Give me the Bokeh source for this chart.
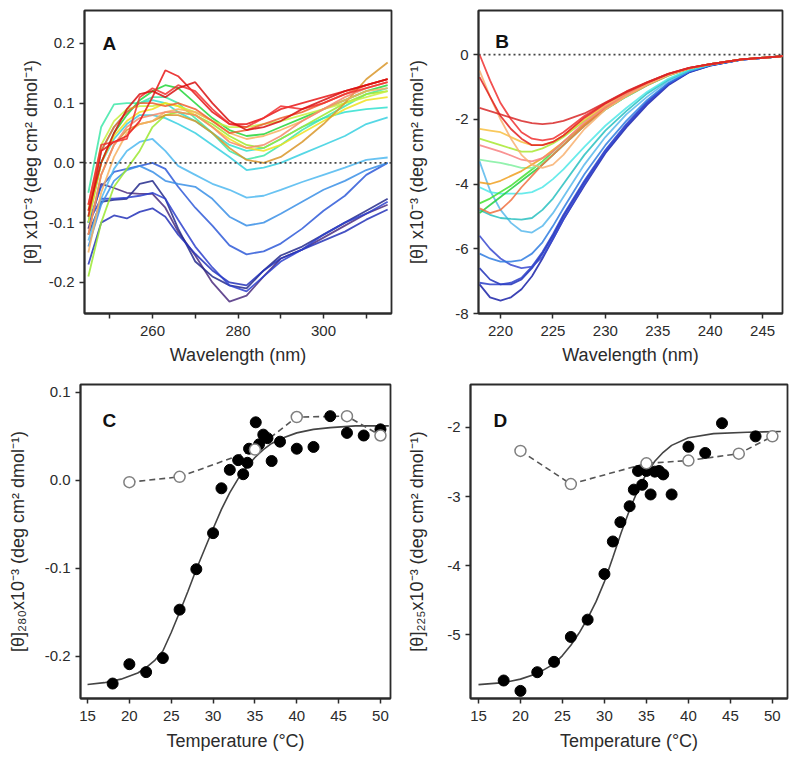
from bokeh.plotting import figure
from bokeh.layouts import column, row
from bokeh.models import FixedTicker, PrintfTickFormatter, Span, Label
from bokeh.embed import file_html
from bokeh.resources import INLINE

FONT = "Liberation Sans"
INK = "#2b2b2b"

# ---------------- Panel A: near-UV CD spectra ----------------
WL_A = [245, 248, 251, 254, 257, 260, 263, 266, 270, 274, 278, 282, 286, 290, 295, 300, 305, 310, 315]
A01 = [-0.11, -0.035, -0.042, -0.05, -0.052, -0.052, -0.075, -0.115, -0.155, -0.20, -0.232, -0.222, -0.19, -0.16, -0.145, -0.125, -0.105, -0.085, -0.07]
A02 = [-0.12, -0.065, -0.062, -0.06, -0.035, -0.03, -0.06, -0.11, -0.165, -0.19, -0.205, -0.21, -0.18, -0.155, -0.14, -0.12, -0.10, -0.08, -0.06]
A03 = [-0.17, -0.10, -0.088, -0.093, -0.082, -0.076, -0.09, -0.12, -0.152, -0.18, -0.20, -0.205, -0.18, -0.16, -0.145, -0.13, -0.115, -0.095, -0.078]
A04 = [-0.10, -0.06, -0.06, -0.058, -0.055, -0.05, -0.06, -0.095, -0.14, -0.175, -0.205, -0.215, -0.19, -0.165, -0.145, -0.12, -0.10, -0.085, -0.065]
A05 = [-0.10, -0.04, -0.015, -0.01, -0.005, 0.0, -0.01, -0.04, -0.075, -0.105, -0.138, -0.153, -0.148, -0.135, -0.11, -0.08, -0.055, -0.02, 0.0]
A06 = [-0.14, -0.07, -0.03, -0.012, -0.005, -0.015, -0.03, -0.035, -0.04, -0.06, -0.09, -0.105, -0.10, -0.085, -0.065, -0.045, -0.03, -0.012, 0.0]
A07 = [-0.13, -0.06, -0.01, 0.02, 0.035, 0.04, 0.02, -0.005, -0.02, -0.035, -0.045, -0.058, -0.055, -0.045, -0.032, -0.02, -0.008, 0.005, 0.009]
A08 = [-0.10, 0.0, 0.04, 0.065, 0.08, 0.08, 0.075, 0.065, 0.05, 0.03, 0.01, -0.012, -0.008, 0.0, 0.015, 0.03, 0.045, 0.065, 0.076]
A09 = [-0.10, 0.02, 0.06, 0.085, 0.10, 0.105, 0.10, 0.085, 0.07, 0.05, 0.03, 0.02, 0.025, 0.04, 0.06, 0.075, 0.085, 0.09, 0.093]
A10 = [-0.05, 0.06, 0.098, 0.10, 0.10, 0.11, 0.11, 0.10, 0.075, 0.05, 0.02, 0.006, 0.012, 0.03, 0.055, 0.075, 0.095, 0.115, 0.125]
A11 = [-0.09, 0.0, 0.05, 0.08, 0.105, 0.12, 0.13, 0.125, 0.10, 0.075, 0.055, 0.045, 0.048, 0.06, 0.075, 0.09, 0.105, 0.12, 0.13]
A12 = [-0.19, -0.10, -0.04, -0.01, 0.02, 0.06, 0.08, 0.085, 0.08, 0.065, 0.045, 0.03, 0.025, 0.04, 0.06, 0.08, 0.10, 0.115, 0.12]
A13 = [-0.08, 0.03, 0.07, 0.09, 0.095, 0.095, 0.10, 0.095, 0.085, 0.07, 0.06, 0.06, 0.065, 0.07, 0.08, 0.09, 0.10, 0.11, 0.12]
A14 = [-0.10, 0.0, 0.045, 0.07, 0.085, 0.09, 0.10, 0.095, 0.08, 0.06, 0.04, 0.025, 0.02, 0.03, 0.05, 0.07, 0.09, 0.105, 0.11]
A15 = [-0.12, -0.02, 0.03, 0.055, 0.065, 0.07, 0.08, 0.08, 0.07, 0.05, 0.025, 0.005, 0.0, 0.01, 0.035, 0.065, 0.10, 0.14, 0.168]
A16 = [-0.15, -0.05, 0.01, 0.05, 0.065, 0.07, 0.085, 0.09, 0.085, 0.07, 0.05, 0.04, 0.045, 0.055, 0.07, 0.09, 0.105, 0.12, 0.125]
A17 = [-0.12, -0.02, 0.03, 0.06, 0.075, 0.08, 0.085, 0.085, 0.08, 0.06, 0.035, 0.025, 0.03, 0.045, 0.07, 0.09, 0.11, 0.125, 0.135]
A18 = [-0.07, 0.02, 0.06, 0.085, 0.10, 0.10, 0.095, 0.10, 0.09, 0.07, 0.05, 0.055, 0.065, 0.075, 0.085, 0.10, 0.115, 0.13, 0.14]
A19 = [-0.09, 0.02, 0.035, 0.045, 0.07, 0.11, 0.155, 0.145, 0.115, 0.085, 0.065, 0.065, 0.075, 0.09, 0.10, 0.11, 0.12, 0.13, 0.14]
A20 = [-0.07, 0.03, 0.035, 0.04, 0.11, 0.125, 0.115, 0.13, 0.12, 0.09, 0.065, 0.06, 0.075, 0.095, 0.09, 0.10, 0.115, 0.125, 0.135]
A21 = [-0.08, 0.0, 0.05, 0.09, 0.115, 0.12, 0.11, 0.125, 0.135, 0.10, 0.07, 0.055, 0.06, 0.07, 0.09, 0.105, 0.12, 0.13, 0.14]
A_SERIES = [A01, A02, A03, A04, A05, A06, A07, A08, A09, A10, A11,
            A12, A13, A14, A15, A16, A17, A18, A19, A20, A21]
A_COLORS = ["#4b2d7f", "#252a8c", "#2433b8", "#2d3fcc", "#2f5ad8", "#3a8fe6", "#4fb8f0",
            "#38d0e0", "#30e0d0", "#3ee8a8", "#22d63a", "#9be830", "#c8f040", "#f0e020",
            "#d9962a", "#f7b060", "#f48a6a", "#f06030", "#e81818", "#f03030", "#d81010"]

# ---------------- Panel B: far-UV CD spectra ----------------
WL_B = [218, 219, 220, 221, 222, 223, 224, 225, 226, 228, 230, 232, 234, 236, 238, 240, 243, 247]
B01 = [-7.1, -7.5, -7.6, -7.5, -7.25, -6.85, -6.3, -5.7, -5.1, -4.05, -3.05, -2.25, -1.55, -0.95, -0.55, -0.34, -0.16, -0.05]
B02 = [-6.6, -6.95, -7.1, -7.1, -6.95, -6.6, -6.15, -5.6, -5.0, -3.95, -3.0, -2.2, -1.5, -0.92, -0.54, -0.34, -0.16, -0.05]
B03 = [-7.05, -7.1, -7.1, -7.05, -6.9, -6.55, -6.1, -5.55, -4.95, -3.9, -2.95, -2.15, -1.45, -0.9, -0.53, -0.33, -0.16, -0.05]
B04 = [-5.6, -6.0, -6.3, -6.5, -6.6, -6.55, -6.25, -5.7, -5.1, -4.0, -3.0, -2.2, -1.5, -0.92, -0.53, -0.33, -0.16, -0.05]
B05 = [-6.15, -6.3, -6.4, -6.4, -6.35, -6.15, -5.8, -5.3, -4.75, -3.7, -2.8, -2.05, -1.4, -0.88, -0.52, -0.33, -0.16, -0.05]
B06 = [-3.3, -4.2, -4.8, -5.2, -5.45, -5.5, -5.3, -4.9, -4.4, -3.4, -2.55, -1.85, -1.3, -0.82, -0.5, -0.32, -0.15, -0.05]
B07 = [-4.8, -4.95, -5.05, -5.08, -5.1, -5.05, -4.8, -4.45, -4.0, -3.1, -2.35, -1.75, -1.2, -0.78, -0.48, -0.31, -0.15, -0.05]
B08 = [-4.1, -4.25, -4.3, -4.3, -4.3, -4.25, -4.1, -3.85, -3.55, -2.85, -2.2, -1.65, -1.15, -0.75, -0.47, -0.31, -0.15, -0.05]
B09 = [-4.9, -4.65, -4.4, -4.15, -3.9, -3.65, -3.4, -3.1, -2.8, -2.2, -1.7, -1.3, -0.95, -0.65, -0.43, -0.3, -0.15, -0.05]
B10 = [-4.6, -4.45, -4.25, -4.05, -3.8, -3.55, -3.3, -3.0, -2.7, -2.15, -1.68, -1.28, -0.93, -0.64, -0.43, -0.3, -0.15, -0.05]
B11 = [-3.25, -3.3, -3.35, -3.42, -3.5, -3.5, -3.35, -3.1, -2.8, -2.2, -1.7, -1.3, -0.95, -0.65, -0.43, -0.3, -0.15, -0.05]
B12 = [-2.6, -2.7, -2.8, -2.9, -3.0, -3.0, -2.9, -2.75, -2.55, -2.05, -1.62, -1.25, -0.92, -0.63, -0.42, -0.3, -0.15, -0.05]
B13 = [-2.3, -2.35, -2.4, -2.55, -2.7, -2.8, -2.8, -2.7, -2.5, -2.0, -1.58, -1.22, -0.9, -0.62, -0.42, -0.3, -0.15, -0.05]
B14 = [-3.95, -4.0, -3.9, -3.75, -3.6, -3.4, -3.2, -2.95, -2.7, -2.15, -1.65, -1.27, -0.93, -0.64, -0.43, -0.3, -0.15, -0.05]
B15 = [-4.75, -4.9, -4.8, -4.5, -4.1, -3.75, -3.4, -3.1, -2.8, -2.2, -1.68, -1.28, -0.94, -0.64, -0.43, -0.3, -0.15, -0.05]
B16 = [-2.8, -2.9, -3.0, -3.12, -3.25, -3.3, -3.2, -3.0, -2.7, -2.1, -1.62, -1.24, -0.91, -0.63, -0.42, -0.3, -0.15, -0.05]
B17 = [-0.5, -1.3, -2.0, -2.6, -3.1, -3.4, -3.5, -3.4, -3.1, -2.3, -1.7, -1.28, -0.93, -0.64, -0.43, -0.3, -0.15, -0.05]
B18 = [0.0, -0.8, -1.5, -2.0, -2.4, -2.6, -2.65, -2.6, -2.4, -1.9, -1.5, -1.15, -0.86, -0.6, -0.41, -0.3, -0.15, -0.05]
B19 = [-0.7, -1.3, -1.9, -2.3, -2.6, -2.8, -2.8, -2.7, -2.5, -1.95, -1.52, -1.17, -0.87, -0.6, -0.41, -0.3, -0.15, -0.05]
B20 = [-1.65, -1.75, -1.85, -1.95, -2.05, -2.12, -2.15, -2.12, -2.05, -1.82, -1.48, -1.14, -0.85, -0.6, -0.41, -0.3, -0.15, -0.05]
B_SERIES = [B01, B02, B03, B04, B05, B06, B07, B08, B09, B10,
            B11, B12, B13, B14, B15, B16, B17, B18, B19, B20]
B_COLORS = ["#1a22a8", "#2030b8", "#2a3ec8", "#3a4ad0", "#2f7de0", "#58b8ec", "#28c0c0",
            "#50e8e8", "#22d040", "#44e030", "#80f0a0", "#a8e830", "#f8c040", "#f0a020",
            "#f07040", "#f88080", "#f8b070", "#f03030", "#e02020", "#d82828"]

# ---------------- Panel C: [theta]280 vs temperature ----------------
C_T_HEAT = [18, 20, 22, 24, 26, 28, 30, 31, 32, 33, 33.6, 34.1, 34.3, 35.1, 35.5, 36, 36.5, 37, 38, 40, 42, 44, 46, 48, 50]
C_V_HEAT = [-0.231, -0.209, -0.218, -0.202, -0.147, -0.101, -0.060, -0.009, 0.012, 0.023, 0.007, 0.020, 0.036, 0.066,
            0.041, 0.052, 0.048, 0.022, 0.044, 0.036, 0.038, 0.073, 0.054, 0.051, 0.058]
C_T_COOL = [20, 26, 35, 40, 46, 50]
C_V_COOL = [-0.002, 0.004, 0.035, 0.072, 0.073, 0.051]
C_T_FIT = [15, 17, 19, 21, 22, 23, 24, 25, 26, 27, 28, 29, 30, 31, 32, 33, 34, 35, 36, 37, 38, 40, 42, 44, 47, 51]
C_V_FIT = [-0.232, -0.230, -0.226, -0.219, -0.213, -0.205, -0.194, -0.173, -0.150, -0.126, -0.101, -0.078, -0.055,
           -0.033, -0.014, 0.002, 0.015, 0.026, 0.035, 0.042, 0.047, 0.054, 0.058, 0.060, 0.062, 0.062]

# ---------------- Panel D: [theta]225 vs temperature ----------------
D_T_HEAT = [18, 20, 22, 24, 26, 28, 30, 31, 31.9, 33, 33.5, 34, 34.5, 35, 35.5, 36, 36.5, 37, 38, 40, 42, 44, 48]
D_V_HEAT = [-5.66, -5.81, -5.54, -5.39, -5.03, -4.78, -4.12, -3.65, -3.37, -3.14, -2.90, -2.63, -2.83, -2.63,
            -2.97, -2.64, -2.63, -2.68, -2.97, -2.28, -2.37, -1.94, -2.13]
D_T_COOL = [20, 26, 35, 40, 46, 50]
D_V_COOL = [-2.34, -2.82, -2.52, -2.48, -2.38, -2.13]
D_T_FIT = [15, 18, 20, 22, 24, 25, 26, 27, 28, 29, 30, 31, 32, 33, 34, 35, 36, 37, 38, 40, 43, 47, 51]
D_V_FIT = [-5.72, -5.69, -5.64, -5.56, -5.42, -5.30, -5.15, -4.97, -4.76, -4.52, -4.23, -3.88, -3.52, -3.19, -2.90,
           -2.67, -2.49, -2.36, -2.26, -2.15, -2.09, -2.07, -2.06]

Y_LABEL_AB = "[\u03b8] x10\u207b\u00b3 (deg cm\u00b2 dmol\u207b\u00b9)"
Y_LABEL_C = "[\u03b8]\u2082\u2088\u2080x10\u207b\u00b3 (deg cm\u00b2 dmol\u207b\u00b9)"
Y_LABEL_D = "[\u03b8]\u2082\u2082\u2085x10\u207b\u00b3 (deg cm\u00b2 dmol\u207b\u00b9)"
X_LABEL_WL = "Wavelength (nm)"
X_LABEL_T = "Temperature (\u00b0C)"


def make_fig(width, height, xr, yr, bl, br, bt, bb, xlabel, ylabel, xstand, ystand):
    p = figure(width=width, height=height, x_range=xr, y_range=yr,
               output_backend="svg", toolbar_location=None,
               min_border_left=bl, min_border_right=br,
               min_border_top=bt, min_border_bottom=bb)
    p.xgrid.visible = False
    p.ygrid.visible = False
    p.outline_line_color = INK
    p.outline_line_width = 1.8
    p.outline_line_alpha = 1.0
    p.background_fill_color = "white"
    p.border_fill_color = "white"
    for ax in (p.xaxis[0], p.yaxis[0]):
        ax.axis_line_color = INK
        ax.axis_line_width = 1.8
        ax.major_tick_line_color = INK
        ax.major_tick_line_width = 1.5
        ax.major_tick_out = 5
        ax.major_tick_in = 0
        ax.minor_tick_line_color = None
        ax.major_label_text_font = FONT
        ax.major_label_text_font_size = "15px"
        ax.major_label_text_color = INK
        ax.axis_label_text_font = FONT
        ax.axis_label_text_font_size = "18px"
        ax.axis_label_text_font_style = "normal"
        ax.axis_label_text_color = INK
    p.xaxis[0].major_label_standoff = 7
    p.yaxis[0].major_label_standoff = 5
    p.xaxis[0].axis_label = xlabel
    p.yaxis[0].axis_label = ylabel
    p.xaxis[0].axis_label_standoff = xstand
    p.yaxis[0].axis_label_standoff = ystand
    return p


def add_letter(p, x, y, text):
    p.add_layout(Label(x=x, y=y, text=text, text_font=FONT, text_font_size="19px",
                       text_color="#111111", text_font_style="bold",
                       text_align="left", text_baseline="middle"))


# ---- A ----
pA = make_fig(400, 374, (244.1, 315.9), (-0.252, 0.255), 84, 9, 10, 61,
              X_LABEL_WL, Y_LABEL_AB, 6, 5)
pA.xaxis[0].ticker = FixedTicker(ticks=[260, 280, 300], minor_ticks=[250, 270, 290, 310])
pA.xaxis[0].minor_tick_line_color = INK
pA.xaxis[0].minor_tick_line_width = 1.5
pA.xaxis[0].minor_tick_out = 5
pA.xaxis[0].minor_tick_in = 0
pA.yaxis[0].ticker = FixedTicker(ticks=[-0.2, -0.1, 0.0, 0.1, 0.2])
pA.yaxis[0].formatter = PrintfTickFormatter(format="%.1f")
for ys, c in zip(A_SERIES, A_COLORS):
    pA.line(WL_A, ys, line_color=c, line_width=1.8, line_alpha=0.85)
pA.add_layout(Span(location=0, dimension="width", line_color="#444444",
                   line_width=1.8, line_dash="2 3"))
add_letter(pA, 248.3, 0.2, "A")

# ---- B ----
pB = make_fig(392, 374, (217.9, 246.9), (-8.0, 1.36), 78, 10, 10, 61,
              X_LABEL_WL, Y_LABEL_AB, 6, 25)
pB.xaxis[0].ticker = FixedTicker(ticks=[220, 225, 230, 235, 240, 245])
pB.yaxis[0].ticker = FixedTicker(ticks=[-8, -6, -4, -2, 0])
pB.yaxis[0].formatter = PrintfTickFormatter(format="%d")
for ys, c in zip(B_SERIES, B_COLORS):
    pB.line(WL_B, ys, line_color=c, line_width=1.8, line_alpha=0.85)
pB.add_layout(Span(location=0, dimension="width", line_color="#444444",
                   line_width=1.8, line_dash="2 3"))
add_letter(pB, 219.5, 0.4, "B")

# ---- C ----
pC = make_fig(400, 387, (14.16, 51.2), (-0.248, 0.109), 80, 10, 10, 63,
              X_LABEL_T, Y_LABEL_C, 7, 14)
pC.xaxis[0].ticker = FixedTicker(ticks=[15, 20, 25, 30, 35, 40, 45, 50])
pC.yaxis[0].ticker = FixedTicker(ticks=[-0.2, -0.1, 0.0, 0.1])
pC.yaxis[0].formatter = PrintfTickFormatter(format="%.1f")
pC.line(C_T_FIT, C_V_FIT, line_color="#444444", line_width=1.6)
pC.line(C_T_COOL, C_V_COOL, line_color="#555555", line_width=1.6, line_dash="6 4")
pC.scatter(C_T_HEAT, C_V_HEAT, size=11, fill_color="black", line_color="black")
pC.scatter(C_T_COOL, C_V_COOL, size=11, fill_color="white", line_color="#808080", line_width=1.5)
add_letter(pC, 16.8, 0.068, "C")

# ---- D ----
pD = make_fig(392, 387, (14.05, 51.8), (-5.92, -1.38), 70, 5, 9, 63,
              X_LABEL_T, Y_LABEL_D, 7, 17)
pD.xaxis[0].ticker = FixedTicker(ticks=[15, 20, 25, 30, 35, 40, 45, 50])
pD.yaxis[0].ticker = FixedTicker(ticks=[-5, -4, -3, -2])
pD.yaxis[0].formatter = PrintfTickFormatter(format="%d")
pD.line(D_T_FIT, D_V_FIT, line_color="#444444", line_width=1.6)
pD.line(D_T_COOL, D_V_COOL, line_color="#555555", line_width=1.6, line_dash="6 4")
pD.scatter(D_T_HEAT, D_V_HEAT, size=11, fill_color="black", line_color="black")
pD.scatter(D_T_COOL, D_V_COOL, size=11, fill_color="white", line_color="#808080", line_width=1.5)
add_letter(pD, 16.8, -1.9, "D")

layout = column(row(pA, pB), row(pC, pD))
open("out.html", "w").write(file_html(layout, INLINE))
